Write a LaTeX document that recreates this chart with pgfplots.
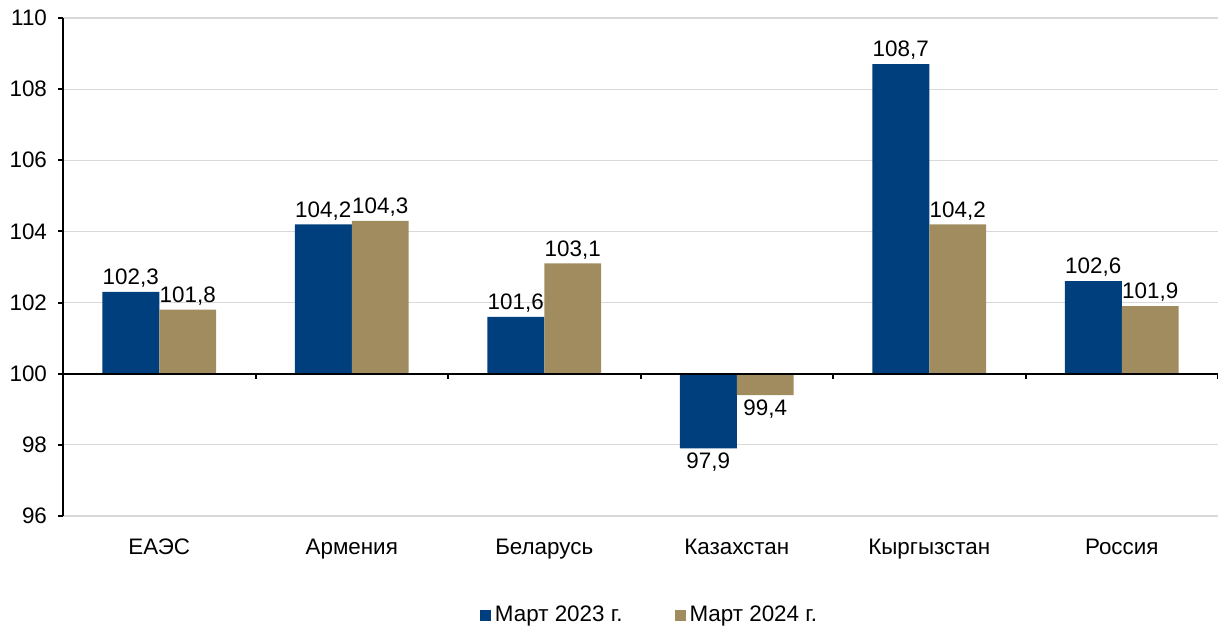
\documentclass[border=0pt]{standalone}
\usepackage{fontspec}
\setmainfont{Liberation Sans}
\usepackage{pgfplots}
\usepackage{pgfplotstable}
\pgfplotsset{compat=1.18}
\definecolor{cBlue}{HTML}{003F7D}
\definecolor{cTan}{HTML}{A08C5F}
\newcommand\f{\fontsize{11.2}{13}\selectfont}

% values in %, bars start at 100
\pgfplotstableread{
x a b
0 102.3 101.8
1 104.2 104.3
2 101.6 103.1
3 97.9 99.4
4 108.7 104.2
5 102.6 101.9
}\data

\begin{document}
\begin{tikzpicture}[font=\f]
\begin{axis}[
  at={(0,0)}, anchor=south west, scale only axis,
  width=577.5pt, height=249pt,
  xmin=-0.5, xmax=5.5, ymin=-4, ymax=10,
  axis x line*=bottom, axis y line*=left,
  x axis line style={draw=none},
  y axis line style={black, line width=1pt},
  xtick={0,...,5},
  xticklabels={ЕАЭС, Армения, Беларусь, Казахстан, Кыргызстан, Россия},
  xtick style={draw=none},
  xticklabel style={font=\f, yshift=-5.5pt},
  ytick={-4,-2,...,10},
  yticklabels={96,98,100,102,104,106,108,110},
  yticklabel style={font=\f, xshift=-2pt},
  ytick style={black, line width=1pt},
  tick align=outside, major tick length=2.5pt,
  ymajorgrids, grid style={black!15, line width=0.6pt},
  ybar=0pt, bar width=0.296,
  nodes near coords={{\pgfkeys{/pgf/fpu=true}%
    \pgfmathparse{\pgfplotspointmeta+100}\pgfmathprintnumber{\pgfmathresult}}},
  nodes near coords align=vertical,
  nodes near coords style={font=\f, inner sep=2pt},
  /pgf/number format/use comma,
  /pgf/number format/fixed,
  /pgf/number format/fixed zerofill,
  /pgf/number format/precision=1,
  /pgf/number format/assume math mode=true,
  legend columns=2,
  legend style={draw=none, fill=none, font=\f, at={(0.5,-0.2)}, anchor=center,
    xshift=5pt,
    /tikz/every even column/.append style={column sep=24pt}},
  legend image code/.code={\fill[#1] (0pt,-2.75pt) rectangle (5.5pt,2.75pt);},
]
\addplot[fill=cBlue, draw=none] table[x=x, y expr=\thisrow{a}-100]{\data};
\addplot[fill=cTan, draw=none] table[x=x, y expr=\thisrow{b}-100]{\data};
\legend{Март 2023 г., Март 2024 г.}
\draw[black, line width=1pt] (axis cs:-0.5,0) -- (axis cs:5.5,0);
\pgfplotsinvokeforeach{0.5,1.5,2.5,3.5,4.5,5.5}{
  \draw[black, line width=1pt] (axis cs:#1,0) -- ++(0pt,-2.5pt);
}
\end{axis}
\pgfresetboundingbox
\path (-31.5pt,-55.5pt) rectangle (577.5pt,258pt);
\end{tikzpicture}
\end{document}
